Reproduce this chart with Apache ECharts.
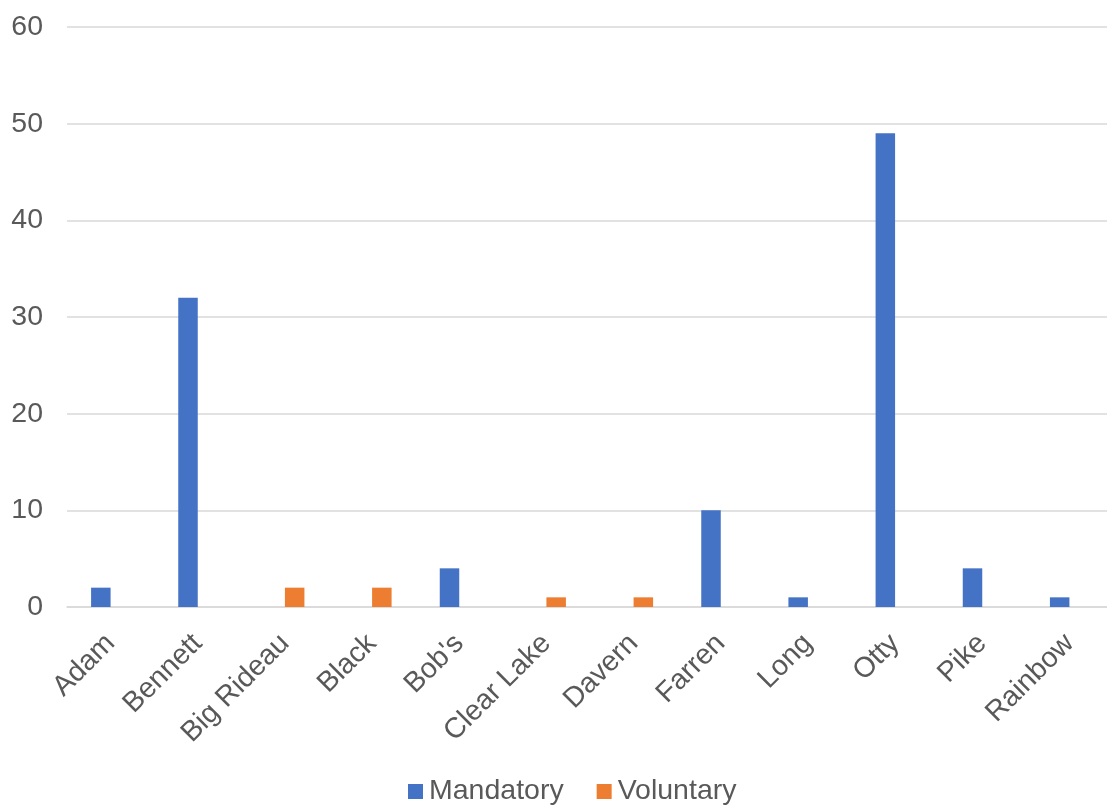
<!DOCTYPE html>
<html>
<head>
<meta charset="utf-8">
<script src="https://cdn.jsdelivr.net/npm/echarts@6/dist/echarts.min.js"></script>
<style>
  html, body { margin: 0; padding: 0; background: #fff; }
  #chart { width: 1107px; height: 806px; }
</style>
</head>
<body>
<div id="chart"></div>
<script>
const categories = ['Adam', 'Bennett', 'Big Rideau', 'Black', "Bob's", 'Clear Lake', 'Davern', 'Farren', 'Long', 'Otty', 'Pike', 'Rainbow'];
const mandatory = [2, 32, null, null, 4, null, null, 10, 1, 49, 4, 1];
const voluntary = [null, null, 2, 2, null, 1, 1, null, null, null, null, null];
const yTicks = { min: 0, max: 60, interval: 10 };

const textColor = '#595959';
const fontFamily = '"Liberation Sans", Arial, sans-serif';
const fontSize = 28.5;

const chart = echarts.init(document.getElementById('chart'));
chart.setOption({
  animation: false,
  textStyle: { fontFamily: fontFamily },
  // plot area runs slightly past the right edge of the canvas
  grid: {
    left: 67, width: 1046, top: 27, height: 580,
    containLabel: false,
    outerBoundsMode: 'none'
  },
  legend: {
    top: 777,
    left: 408,
    padding: 0,
    itemWidth: 15,
    itemHeight: 15,
    itemGap: 33,
    icon: 'rect',
    textStyle: { color: textColor, fontSize: fontSize, fontFamily: fontFamily, padding: [0, 0, 0, 1] },
    data: ['Mandatory', 'Voluntary']
  },
  xAxis: {
    type: 'category',
    data: categories,
    axisLine: { lineStyle: { color: '#d9d9d9', width: 1.5 } },
    axisTick: { show: false },
    axisLabel: {
      rotate: 45,
      color: textColor,
      fontSize: fontSize,
      fontFamily: fontFamily,
      margin: 32,
      interval: 0
    }
  },
  yAxis: {
    type: 'value',
    min: yTicks.min,
    max: yTicks.max,
    interval: yTicks.interval,
    axisLine: { show: false },
    axisTick: { show: false },
    splitLine: { lineStyle: { color: '#d9d9d9', width: 1.5 } },
    axisLabel: { color: textColor, fontSize: fontSize, fontFamily: fontFamily, margin: 24 }
  },
  series: [
    {
      name: 'Mandatory',
      type: 'bar',
      data: mandatory,
      barWidth: 19.5,
      barGap: '0%',
      itemStyle: { color: '#4472C4' }
    },
    {
      name: 'Voluntary',
      type: 'bar',
      data: voluntary,
      barWidth: 19.5,
      barGap: '0%',
      itemStyle: { color: '#ED7D31' }
    }
  ]
});
</script>
</body>
</html>
